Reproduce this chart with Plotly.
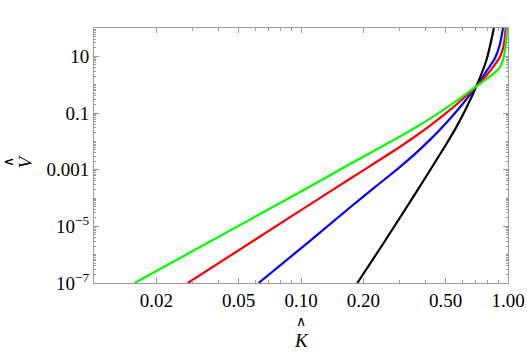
import plotly.graph_objects as go

# values (K along x, V along y, both log scale)
k_black = [0.1871, 0.2512, 0.3548, 0.5012, 0.5610, 0.6281, 0.7031, 0.7870, 0.8551]
v_black = [1e-7, 2.63e-6, 1.35e-4, 7.59e-3, 3.04e-2, 0.1459, 0.87, 7.41, 100]

k_blue = [0.0624, 0.1102, 0.1718, 0.2291, 0.2999, 0.3556, 0.4217, 0.5000, 0.5929,
          0.7031, 0.7943, 0.8630, 0.9120, 0.9462]
v_blue = [1e-7, 3.0e-6, 4.54e-5, 2.51e-4, 1.236e-3, 3.61e-3, 1.17e-2, 4.26e-2, 0.177,
          0.87, 3.31, 8.32, 25.1, 100]

k_red = [0.02838, 0.1, 0.1778, 0.2291, 0.2999, 0.3556, 0.4217, 0.5000, 0.5929,
         0.7031, 0.7943, 0.8710, 0.9226, 0.9550, 0.9750]
v_red = [1e-7, 3.72e-5, 5.50e-4, 1.79e-3, 6.31e-3, 1.479e-2, 3.65e-2, 9.64e-2, 0.277,
         0.87, 2.29, 5.50, 11.2, 26.3, 100]

k_green = [0.0157, 0.1, 0.1778, 0.2291, 0.3020, 0.3576, 0.4233, 0.5013, 0.5936,
           0.7031, 0.7943, 0.8710, 0.9120, 0.9441, 0.9727, 0.9908]
v_green = [1e-7, 1.70e-4, 1.78e-3, 4.94e-3, 1.51e-2, 3.08e-2, 6.58e-2, 0.148, 0.351,
           0.87, 1.66, 2.82, 3.98, 7.08, 22.4, 100]

x_ticks = [0.02, 0.05, 0.1, 0.2, 0.5, 1.0]
x_labels = ["0.02", "0.05", "0.10", "0.20", "0.50", "1.00"]
y_ticks = [10, 0.1, 0.001, 1e-5, 1e-7]
y_labels = ["10", "0.1", "0.001", "10<sup>\u22125</sup>", "10<sup>\u22127</sup>"]

x_minor = [m * 10 ** e for e in (-2, -1) for m in range(1, 10)] + [1.0]
y_minor = [m * 10.0 ** e for e in range(-7, 2) for m in range(1, 10)] + [100]

series = [
    (k_black, v_black, "black"),
    (k_blue, v_blue, "rgb(0,0,255)"),
    (k_red, v_red, "rgb(255,0,0)"),
    (k_green, v_green, "rgb(0,255,0)"),
]

fig = go.Figure()
for k, v, c in series:
    fig.add_trace(go.Scatter(x=k, y=v, mode="lines",
                             line=dict(color=c, width=2.2, shape="spline", smoothing=0.7),
                             hoverinfo="none", showlegend=False))

frame = "#999999"
font = dict(family="Liberation Serif", size=19, color="black")
hat = dict(family="Liberation Serif", size=14, color="black")

fig.update_xaxes(type="log", range=[-2, 0], tickmode="array", tickvals=x_ticks,
                 ticktext=x_labels, ticks="inside", ticklen=5, tickcolor=frame,
                 showline=True, linecolor=frame, linewidth=1, mirror="ticks",
                 showgrid=False, zeroline=False, tickfont=font, automargin=False,
                 minor=dict(tickmode="array", tickvals=x_minor, ticks="inside",
                            ticklen=3, tickcolor=frame, showgrid=False))
fig.update_yaxes(type="log", range=[-7, 2], tickmode="array", tickvals=y_ticks,
                 ticktext=y_labels, ticks="inside", ticklen=5, tickcolor=frame,
                 showline=True, linecolor=frame, linewidth=1, mirror="ticks",
                 showgrid=False, zeroline=False, tickfont=font, automargin=False,
                 minor=dict(tickmode="array", tickvals=y_minor, ticks="inside",
                            ticklen=2, tickcolor=frame, showgrid=False))

# axis titles: hatted K and V
fig.add_annotation(text="\u2227", xref="paper", yref="paper", x=0.5, y=-0.151,
                   xanchor="center", yanchor="middle", showarrow=False, font=hat)
fig.add_annotation(text="<i>K</i>", xref="paper", yref="paper", x=0.5, y=-0.226,
                   xanchor="center", yanchor="middle", showarrow=False, font=font)
fig.add_annotation(text="\u2227", xref="paper", yref="paper", x=-0.205, y=0.475,
                   xanchor="center", yanchor="middle", textangle=-90,
                   showarrow=False, font=hat)
fig.add_annotation(text="<i>V</i>", xref="paper", yref="paper", x=-0.165, y=0.475,
                   xanchor="center", yanchor="middle", textangle=-90,
                   showarrow=False, font=font)

fig.update_layout(width=527, height=354, margin=dict(l=94, r=19, t=28, b=71),
                  plot_bgcolor="white", paper_bgcolor="white")

fig.write_html("out.html", config={"displayModeBar": False},
               post_script="document.body.style.margin='0';")
